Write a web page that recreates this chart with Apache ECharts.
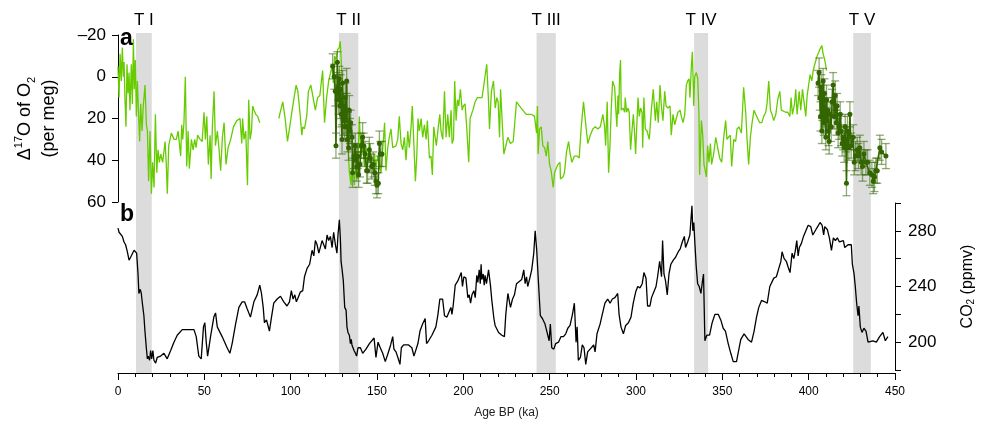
<!DOCTYPE html>
<html><head><meta charset="utf-8">
<script src="https://cdn.jsdelivr.net/npm/echarts@6/dist/echarts.min.js"></script>
<style>html,body{margin:0;padding:0;background:#fff}#c{width:984px;height:421px}</style>
</head><body><div id="c"></div>
<script>
// ---- Terminations (ka) ----
const termNames = ['T I','T II','T III','T IV','T V'];
const termStart = [10.4, 127.6, 241.8, 332.8, 424.7];
const termEnd   = [19.5, 138.8, 252.9, 340.9, 434.9];

// ---- Δ17O of O2 (light green), [age ka, per meg] ----
const d17Age = [0,0.6,1.2,1.9,2.5,3.1,3.5,4,4.6,5.2,5.8,6.4,6.9,7.7,8.3,8.9,9.4,10,10.6,11.2,11.7,12.5,13.1,13.9,14.6,15.6,16.4,17,17.7,18.5,19.3,20,20.8,21.6,22.4,23.1,23.9,24.7,25.8,27.2,27.9,28.5,29.3,30.8,32.4,33.7,34.7,35.7,36.2,36.8,37.4,38.1,38.9,39.7,40.5,41.2,42.4,43.4,44.3,45.1,46,47.4,48.6,49.7,50.5,51.3,52.2,53.2,53.8,54.5,55.5,56.3,57.4,58.4,59.3,60.3,61.3,62.4,63.6,65.1,66.7,68.6,70.5,71.5,72,72.8,73.8,74.8,75.5,76.3,77.1,77.8,78.6,79.6,80.7,81.9,87,92.9,94,95.2,96.7,97.9,99.2,100.6,101.9,102.9,103.9,105.2,106.2,106.7,107.7,109,110,111.4,112.7,
114,115.3,116.6,118.2,119.3,120.5,121.7,122.8,123.6,124.4,125.1,125.9,126.9,127.8,128.4,129.7,130.7,131.7,132.6,133.6,134.6,135.5,136.5,137.5,138.4,139.4,140.4,141.3,142.3,143.2,144.2,145.2,146.1,147.1,148.1,149,150,151,151.9,152.9,154,154.8,155.8,156.7,157.7,158.7,159.6,160.6,161.6,162.5,163.5,164.5,165.4,166.4,167.4,168.3,169.3,170,170.8,171.8,172.6,173.3,174.1,175.1,176,177,178,178.7,179.9,180.8,181.6,182.4,183.2,183.9,184.9,185.9,186.6,187.6,188.6,189.5,190.5,191.4,192.4,193,193.8,194.5,195.3,196.1,196.8,197.8,198.8,199.5,200.5,201.5,202.6,203.4,205,206.3,207.6,210.3,211.5,213,214,214.6,215.7,216.9,217.9,218.8,219.6,220.4,221,221.9,222.9,
225.2,226.7,228.3,230.2,232.9,235.8,238.7,240.6,241.8,242.3,242.7,243.5,244.5,245.4,246.4,247.4,248.3,249.3,250.2,251.4,252.2,253.1,254.1,255.3,255.6,257,257.9,259.1,260.3,261.2,262.2,263.7,265.3,266.4,267.6,268.9,270.1,271.4,272.8,274.3,275.7,277.2,278.6,280.1,281.1,281.7,282.6,283.4,284.2,284.9,285.7,286.9,287.6,288.2,288.8,289.2,289.8,290.3,290.7,291.7,292.7,293,293.8,294.6,295.3,296.1,296.9,297.7,298.4,299,299.6,300.4,301.1,301.9,302.7,303.1,303.8,304.6,305.6,306.9,308.1,309.2,310.4,311.2,312.1,313.1,313.9,314.8,315.8,316.6,317.7,318.9,319.6,320.6,321.6,322.5,323.5,324.7,325.4,326.4,327.4,328.3,329.1,329.9,330.4,331.2,331.8,332.6,333.1,334.1,334.9,335.6,336,337,337.8,338.5,
339.9,340.6,341.4,342.2,342.9,344.1,345.3,346.4,347.6,348.7,349.9,351,351.8,352.6,353.7,354.5,355.7,356.8,357.6,358.7,360.1,361.4,362.6,363.4,364.3,365.3,366.3,367.4,368.4,369.5,370.7,371.9,373,374.2,374.9,375.9,376.9,377.8,378.8,380,381.1,382.3,383.2,384.2,385.7,386.9,388.1,388.8,389.6,390.8,391.5,392.3,393.5,394.4,395.4,396.3,397.3,398.1,399,399.8,400.8,401.6,402.5,403.9,404.8,405.4,406.6,407.3,408.3,409.3];
const d17Val = [-5,10,-11,2,-14,0,-7,10,24,-6,8,-2,16,-6,13,-18,6,-8,19,2,14,31,13,26,14,4,23,26,50,26,56,41,53,18,46,35,41,37,41,31,42,56,33,27,30,30,26,26,38,23,30,22,0,43,26,44,30,35,30,34,28,30,31,17,30,19,42,28,49,24,7,33,26,35,45,29,22,42,34,30,24,21,20,32,20,30,26,52,11,30,26,14,16,18,19,22,null,20,16,12,21,31,24,16,9,4,7,18,28,24,25,19,7,4,10,
16,10,9,-3,22,10,2,-2,-5,3,-10,-8,-13,-14,-17,5,18,25,30,45,52,38,52,42,49,19,38,30,43,33,41,32,38,45,37,44,38,41,46,35,22,45,34,29,25,34,34,33,30,19,32,35,29,40,26,34,24,14,30,50,38,20,26,20,29,23,30,21,39,38,47,24,29,33,25,18,26,30,7,29,18,29,16,32,30,2,21,11,14,6,16,14,13,25,41,20,16,12,10,10,3,-6,11,25,7,2,15,10,12,29,6,21,37,
29,32,31,12,15,18,18,19,27,14,37,25,24,33,34,38,31,42,45,53,46,44,42,41,49,48,46,36,31,37,41,38,38,39,24,12,22,32,28,25,24,25,24,18,24,33,12,46,33,16,2,5,16,24,9,18,-2,-8,16,15,17,10,17,15,17,35,26,18,27,37,25,10,19,15,17,34,10,25,26,30,16,6,21,12,22,4,14,21,7,14,15,14,28,18,23,20,17,16,19,22,18,4,2,1,10,-5,-12,14,0,-2,1,18,47,21,28,42,
48,33,41,32,42,37,29,34,39,41,29,21,30,29,28,43,30,31,25,24,27,5,17,30,42,29,22,16,18,20,22,22,19,17,13,2,16,18,21,18,11,7,16,16,17,17,19,10,18,13,6,18,7,16,6,6,19,9,9,-1,2,-3,-6,-10,-10,-13,-15,-11,-8,-3];

// ---- Δ17O high-resolution sets (dark green) with errors ----
const t2Age = [124,125,125.5,125.9,126.7,127.1,127.4,127.8,128.2,128.6,129,129.4,129.7,130.1,130.5,130.9,131.3,131.7,132.1,132.5,132.8,133.2,133.6,134,134.4,135.2,135.5,136.3,137.1,137.5,137.9,138.4,139,139.8,140.5,141.3,141.9,142.7,143.6,144.2,145.2,145.7,146.5,147.5,148.3,149,149.6,150.4,151,151.5,152.5];
const t2Val = [-5,0,7,33,-7,5,11,1,14,6,18,30,3,21,14,24,10,21,2,30,24,34,16,26,22,29,46,38,33,40,43,38,47,42,33,29,33,37,45,45,35,39,43,42,46,50,52,51,32,37,37];
const t2Err = [6,6,7,6,5,6,7,6,6,7,6,7,6,7,6,6,7,6,6,6,7,6,7,6,6,6,7,6,6,6,7,6,6,6,6,7,6,6,6,6,6,7,6,6,6,6,6,5,6,6,6];
const t5Age = [404.4,405,405.4,405.8,406.2,406.6,406.9,407.3,407.7,408.1,408.5,408.9,409.3,409.6,410,410.4,410.8,411.4,412,412.5,413.1,413.7,414.3,414.9,415.4,416,416.6,417.2,417.7,418.3,418.9,419.5,420.1,420.4,420.8,421.4,422.2,422.8,423.5,424.7,425.3,426,427,427.8,428.5,429.3,430.1,430.9,432,433,434.3,435.5,436.3,437,437.8,438.6,440.1,441.1,443.6];
const t5Val = [3,-2,10,19,5,26,14,2,22,8,18,29,11,21,16,26,31,18,24,12,4,19,9,22,14,27,24,18,26,32,29,34,24,30,51,26,34,18,33,29,41,38,35,38,34,41,43,37,41,41,46,47,50,48,45,45,34,36,38];
const t5Err = [6,7,6,7,6,6,7,6,6,7,6,6,7,6,6,7,6,6,7,6,6,6,7,6,6,7,6,6,7,6,6,7,6,6,6,7,6,6,6,6,6,7,6,6,6,6,7,6,6,6,6,6,6,7,6,6,6,6,6];

// ---- CO2 (ppmv) ----
const co2Age = [0,0.6,1.5,2.5,3.5,4.4,5.4,6.4,7.3,8.3,9.3,10.2,10.8,11.6,12.1,12.9,13.5,14.1,15,15.6,16.4,17,17.5,18.3,18.9,19.5,20.2,20.8,21.8,22.7,24.7,26.6,28.5,30.5,32.4,34.3,37.2,39.5,44,45.3,46.8,48.2,49.5,50.3,51.1,51.9,53.6,55.5,56.5,57.5,60.3,63.2,64.8,66.1,68.1,70,71.9,73.3,74.8,76.7,78.7,80.6,82.1,83.1,84.1,84.8,86,87.7,88.9,90.2,92.2,94.1,96,97.9,99.3,100.4,101.4,102.4,103.3,104.3,105.6,107,108,109.5,111,112.4,113.4,114.3,115.3,
116.3,118.2,119.1,120.1,121.1,122,123,124,124.9,125.9,126.8,127.4,128.2,128.8,129.2,129.7,130.5,131.3,132.1,132.6,133.2,134,134.6,135.1,135.5,136.1,136.7,137.5,138.2,139,140.4,141.7,143.6,145.6,148.3,149.4,150.6,151.9,153.3,154.8,156.4,157.9,159.1,159.8,161,162.1,163.3,164.1,165.4,168.3,170.2,171.4,172.5,173.7,174.9,176.4,177.9,178.7,179.9,181.8,184.1,185.3,186.4,188,189.1,190.5,191.8,192.8,193.4,194.1,195.3,196.8,198.8,199.5,200.3,201.5,202.6,203.4,204.2,205,206.1,206.9,207.8,208.4,209.2,209.8,210.3,210.7,211.5,212.1,212.6,213.4,214.6,215.7,216.5,217.7,218.4,219.4,220.4,222.3,223.8,224.6,225.8,226.5,227.3,228.5,229.6,230.8,231.9,233.8,235,235.8,236.6,237.3,238.5,239.6,240.8,241.6,242.5,243.5,244.6,245.8,247.3,248.5,249.7,250.4,251.2,252.4,253.5,255.1,256.6,258,259.3,260.5,261.8,263.2,264.3,265.3,265.9,266.6,267.8,268.9,269.9,270.9,272,273.4,274.3,275.5,276.3,277.4,279.2,
280.1,282,283.6,285,286.3,287.8,289.4,290.2,291.3,292.7,294,295.6,297.1,298.4,299.8,301,302.3,303.6,304.6,305.8,306.7,308.1,309,310.6,311.6,312.5,313.7,314.8,315.4,316.2,317.1,318.1,319.1,320.2,321.6,322.9,324.5,325.6,326.8,328,328.7,329.9,331.2,332.4,332.9,333.5,334.1,334.9,335.7,336.6,337.6,338.4,339.1,339.9,341,342.6,344.1,345.7,347.6,349.1,350.5,351.8,353.4,354.9,356.3,358.2,359.6,360.7,362.6,364.9,366.9,368.4,369.8,371.1,372.7,374.6,376,377.5,378.5,379.8,381.3,382.7,383.9,384.6,385.8,387.1,388.1,389.2,390.4,391.4,392.3,393.1,393.9,394.6,395.8,397,398.1,399.7,401.2,402.4,403.5,404.7,405.8,406.6,407.8,408.7,409.3,410.1,410.8,412,413.2,414.3,415.5,416.6,417.8,418.9,420.1,420.9,421.8,422.8,423.8,424.7,425.3,426.3,427,427.8,428.6,429.1,429.9,430.9,432,433.2,434.4,435.5,437.2,439.2,441.1,443,444.4,445.9];
const co2Val = [282,279,278,276,272,270,265,259,261,262,266,267,264,249,235,238,235,228,219,208,196,188,190,187,194,188,194,187,185,189,190,192,188,194,200,205,209,209,209,204,190,188,211,214,200,190,204,218,221,211,204,196,192,199,213,225,229,229,224,218,229,234,241,235,225,214,216,208,218,228,231,233,229,226,229,237,231,234,229,232,236,237,247,253,256,266,262,273,270,
264,273,272,267,277,273,276,268,279,270,264,277,288,274,258,253,244,225,223,211,207,205,199,202,198,199,194,192,190,196,196,192,195,199,203,189,200,196,192,186,192,198,204,195,193,189,184,196,198,198,196,190,189,199,208,213,217,199,201,205,211,220,231,231,219,218,222,225,220,226,241,244,250,240,247,246,232,234,228,234,237,232,248,243,252,242,256,245,249,241,248,242,252,241,230,217,212,213,207,205,204,220,235,234,225,231,234,242,243,245,252,242,247,240,246,252,264,280,266,243,219,217,213,207,201,213,196,195,199,200,204,204,206,210,212,220,228,200,211,187,189,198,196,184,193,195,195,198,193,206,213,
218,228,231,228,231,232,235,220,211,206,212,214,218,228,236,240,239,242,250,246,226,226,232,237,240,247,258,247,273,249,244,234,249,256,259,261,265,267,272,276,268,272,277,298,280,286,271,254,242,240,235,243,249,201,205,205,214,220,220,216,210,208,199,192,186,186,195,202,206,202,200,208,218,225,230,229,228,240,239,246,247,253,258,265,260,258,254,250,264,260,266,273,262,268,271,276,277,284,283,277,278,282,281,286,284,277,283,284,281,275,266,275,273,275,272,273,273,268,267,270,270,270,256,249,240,228,219,226,211,207,210,208,200,201,201,200,204,207,201,204];

// ---- axis ticks ----
const d17Ticks = [-20, 0, 20, 40, 60];
const co2Labels = [200, 240, 280];

const zip = (a, b) => a.map((v, i) => [v, b[i]]);
const zip3 = (a, b, c) => a.map((v, i) => [v, b[i], c[i]]);

const FONT = '"Liberation Sans", Arial, Helvetica, sans-serif';
const chart = echarts.init(document.getElementById('c'), null, {renderer: 'canvas'});

function errRender(params, api) {
  const x = api.value(0), y = api.value(1), e = api.value(2);
  const p1 = api.coord([x, y - e]);
  const p2 = api.coord([x, y + e]);
  const w = 4;
  const st = {stroke: 'rgba(51,102,0,0.55)', lineWidth: 1.3};
  return {type: 'group', children: [
    {type: 'line', shape: {x1: p1[0], y1: p1[1], x2: p2[0], y2: p2[1]}, style: st},
    {type: 'line', shape: {x1: p1[0]-w, y1: p1[1], x2: p1[0]+w, y2: p1[1]}, style: st},
    {type: 'line', shape: {x1: p2[0]-w, y1: p2[1], x2: p2[0]+w, y2: p2[1]}, style: st}
  ]};
}

const bandData = termNames.map((n, i) => [{name: n, xAxis: termStart[i]}, {xAxis: termEnd[i]}]);

chart.setOption({
  animation: false,
  backgroundColor: '#fff',
  textStyle: {fontFamily: FONT},
  grid: [
    {left: 118, right: 87, top: 35, height: 167},
    {left: 118, right: 87, top: 203, height: 167},
    {left: 118, right: 87, top: 33, height: 340}
  ],
  xAxis: [
    {gridIndex: 0, type: 'value', min: 0, max: 450, show: false},
    {gridIndex: 1, type: 'value', min: 0, max: 450, interval: 50, position: 'bottom', offset: 3,
     axisLine: {show: true, onZero: false, lineStyle: {color: '#000', width: 1}},
     axisTick: {show: true, length: 7, lineStyle: {color: '#000'}},
     minorTick: {show: true, splitNumber: 5, length: 4, lineStyle: {color: '#000'}},
     splitLine: {show: false},
     axisLabel: {fontSize: 12, color: '#000', margin: 13, fontFamily: FONT},
     name: 'Age BP (ka)', nameLocation: 'middle', nameGap: 34,
     nameTextStyle: {fontSize: 12, color: '#222', fontFamily: FONT}},
    {gridIndex: 2, type: 'value', min: 0, max: 450, show: false}
  ],
  yAxis: [
    {gridIndex: 0, type: 'value', inverse: true, min: d17Ticks[0], max: d17Ticks[d17Ticks.length-1], interval: 20,
     position: 'left',
     axisLine: {show: true, onZero: false, lineStyle: {color: '#000', width: 1}},
     axisTick: {show: true, length: 6, lineStyle: {color: '#000'}},
     splitLine: {show: false},
     axisLabel: {fontSize: 17, color: '#000', margin: 12, fontFamily: FONT,
       formatter: v => (v < 0 ? '\u2013' + Math.abs(v) : String(v))},
     name: '{n|\u0394}{sup|17}{n|O of O}{sub|2}\n{n|(per meg)}', nameLocation: 'middle', nameGap: 57, nameRotate: 90,
     nameTextStyle: {fontFamily: FONT, lineHeight: 24, align: 'center', rich: {
       n: {fontSize: 18, color: '#000', fontFamily: FONT, lineHeight: 24},
       sup: {fontSize: 11, color: '#000', verticalAlign: 'top', fontFamily: FONT, padding: [0,0,8,0], lineHeight: 24},
       sub: {fontSize: 11, color: '#000', verticalAlign: 'bottom', fontFamily: FONT, padding: [8,0,0,0], lineHeight: 24}
     }}},
    {gridIndex: 1, type: 'value', min: 180, max: 300, interval: 20, position: 'right',
     axisLine: {show: true, onZero: false, lineStyle: {color: '#000', width: 1}},
     axisTick: {show: true, length: 6, lineStyle: {color: '#000'}},
     splitLine: {show: false},
     axisLabel: {fontSize: 17, color: '#000', margin: 13, fontFamily: FONT,
       formatter: v => (co2Labels.indexOf(v) >= 0 ? String(v) : '')},
     name: '{n|CO}{sub|2}{n| (ppmv)}', nameLocation: 'middle', nameGap: 65, nameRotate: 90,
     nameTextStyle: {fontFamily: FONT, rich: {
       n: {fontSize: 16, color: '#000', fontFamily: FONT},
       sub: {fontSize: 10, color: '#000', verticalAlign: 'bottom', fontFamily: FONT, padding: [6,0,0,0]}
     }}},
    {gridIndex: 2, type: 'value', min: 0, max: 1, show: false}
  ],
  graphic: [
    {type: 'text', left: 120, top: 27, style: {text: 'a', font: 'bold 23px ' + FONT, fill: '#000'}, z: 100},
    {type: 'text', left: 120, top: 203, style: {text: 'b', font: 'bold 23px ' + FONT, fill: '#000'}, z: 100}
  ],
  series: [
    {type: 'line', xAxisIndex: 2, yAxisIndex: 2, data: [], z: 0, silent: true,
     markArea: {silent: true, itemStyle: {color: '#dcdcdc'},
       label: {show: true, position: 'top', distance: 4, fontSize: 17, color: '#000', fontFamily: FONT},
       data: bandData}},
    {type: 'line', name: 'd17', xAxisIndex: 0, yAxisIndex: 0, data: zip(d17Age, d17Val),
     showSymbol: false, symbol: 'none', connectNulls: false, z: 3,
     lineStyle: {color: '#66cc00', width: 1.3}},
    {type: 'custom', xAxisIndex: 0, yAxisIndex: 0, data: zip3(t2Age, t2Val, t2Err), renderItem: errRender, z: 4},
    {type: 'custom', xAxisIndex: 0, yAxisIndex: 0, data: zip3(t5Age, t5Val, t5Err), renderItem: errRender, z: 4},
    {type: 'line', xAxisIndex: 0, yAxisIndex: 0, data: zip(t2Age, t2Val), symbol: 'circle', symbolSize: 5, z: 5,
     itemStyle: {color: '#336600'}, lineStyle: {color: '#336600', width: 1.5}},
    {type: 'line', xAxisIndex: 0, yAxisIndex: 0, data: zip(t5Age, t5Val), symbol: 'circle', symbolSize: 5, z: 5,
     itemStyle: {color: '#336600'}, lineStyle: {color: '#336600', width: 1.5}},
    {type: 'line', name: 'co2', xAxisIndex: 1, yAxisIndex: 1, data: zip(co2Age, co2Val),
     showSymbol: false, symbol: 'none', z: 3, lineStyle: {color: '#000', width: 1.3}}
  ]
});
</script></body></html>
